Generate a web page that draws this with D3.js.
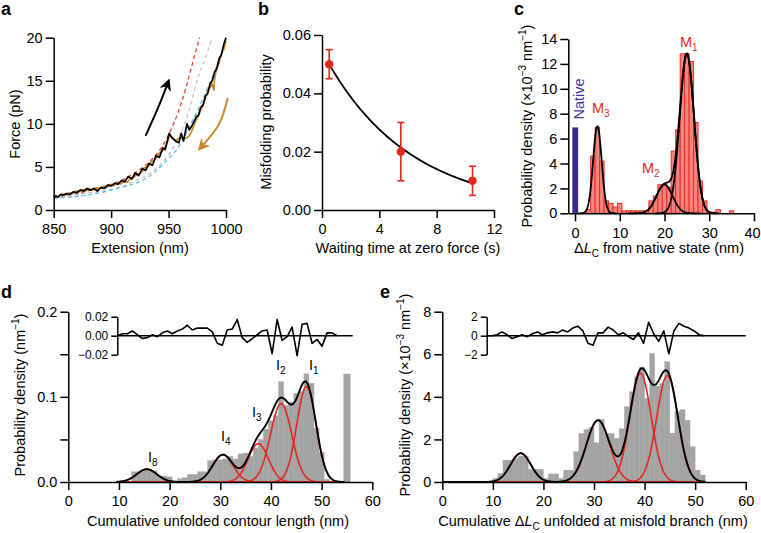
<!DOCTYPE html>
<html>
<head>
<meta charset="utf-8">
<script src="https://cdn.jsdelivr.net/npm/d3@7/dist/d3.min.js"></script>
<style>
  body { margin: 0; background: #fff; }
  svg { font-family: "Liberation Sans", Arial, Helvetica, sans-serif; }
</style>
</head>
<body>
<svg id="fig" width="761" height="533"></svg>
<script>
// ── Panel a: force-extension traces (extension nm, force pN) ──
var stretchTrace = [[850,1.4],[852,1.6],[854,1.5],[856,1.8],[858,1.7],[861,1.9],[864,1.8],[867,2.1],[870,2.0],[873,2.3],[876,2.2],[879,2.5],[882,2.3],[885,2.5],[888,2.2],[891,2.6],[894,2.5],[897,2.9],[900,2.8],[903,3.1],[906,3.0],[909,3.4],[912,3.3],[915,3.9],[918,3.6],[921,4.3],[924,4.0],[927,4.8],[930,4.6],[933,5.4],[936,5.2],[939,6.3],[942,6.1],[945,7.2],[947,7.0],[949,8.0],[950.5,8.9],[953,8.4],[956,8.0],[959,7.8],[961,8.9],[963,8.0],[966,10.0],[968,9.3],[970,9.7],[972,10.2],[974,10.8],[976,11.0],[978,11.9],[980,12.2],[982,13.2],[984,13.5],[986,14.6],[988,15.0],[990,16.0],[992,16.4],[994,17.6],[996,18.0],[998,19.2],[1000,20.0]];
var relaxTrace = [[1000,19.6],[998,18.6],[996,18.2],[994,17.0],[992,16.6],[990,15.2],[989.5,13.9],[988,14.6],[986,14.2],[984,13.8],[982,13.0],[980,12.1],[978,11.6],[976,10.9],[974,10.4],[972,9.8],[970,9.1],[968,8.6],[965,8.3],[962,8.4],[959,8.3],[956,8.1],[953,8.4],[951,8.6],[949,8.0],[947,7.3],[944,6.8],[941,6.5],[938,5.8],[935,5.6],[932,5.0],[929,4.9],[926,4.3],[923,4.2],[920,3.8],[917,3.7],[914,3.2],[911,3.3],[908,3.0],[905,3.1],[902,2.8],[899,2.9],[896,2.6],[893,2.7],[890,2.5],[887,2.6],[884,2.3],[881,2.5],[878,2.2],[875,2.4],[872,2.1],[869,2.2],[866,1.9],[863,2.0],[860,1.7],[857,1.9],[854,1.6],[851,1.7],[850,1.5]];
var wlcRed = [[850,1.4],[870,1.9],[890,2.6],[910,3.5],[925,4.7],[935,5.8],[945,7.5],[952,9.3],[958,11.2],[963,13.2],[968,15.6],[972,17.6],[977,20]];
var wlcGray = [[850,1.4],[875,1.9],[900,2.4],[920,3.3],[937,4.6],[950,6.4],[960,8.7],[966,10.8],[970,12.6],[975,15.1],[980,16.9],[988,20]];
var wlcBlue = [[850,1.35],[880,1.75],[900,2.3],[911,2.7],[925,3.3],[937,4.3],[950,6.0],[957,7.0],[966,9.1],[975,11.5],[983,13.9],[990,16.0],[995,17.8],[1000,20]];
var arrowUp = [[930,8.6],[941,11.9],[949,14.6]];
var arrowDown = [[1001.5,13.0],[994,10.0],[979,7.4]];

// ── Panel b: misfolding probability vs waiting time ──
var waitTime = [0.5, 5.5, 10.5];
var misfoldProb = [0.05, 0.02, 0.01];
var misfoldErr = [0.005, 0.01, 0.005];
var expFit = [0.05, 5.9]; // amplitude at first point, decay time (s)

// ── Panel c: ΔLc histogram (x10^-3 nm^-1) ──
var nativeDensity = 6.9;
var cBinCenter = [3,4,5,6,7,8,9,10,11,12,13,14,15,16,17,18,19,20,21,22,23,24,25,26,27,28,29,30,31,32,33,34,35];
var cDensity   = [0.3,4.6,6.9,4.2,1.0,0.8,0.5,0.8,0.2,0.2,0.2,0.2,0.2,0.2,1.0,1.4,2.3,2.3,2.1,5.0,6.7,12.8,12.8,12.2,7.3,2.6,1.0,0.1,0.1,0.3,0,0,0.2];
var cFitCenter = [5, 20, 25];
var cFitAmp    = [7.0, 2.3, 12.8];
var cFitSigma  = [0.95, 1.8, 1.6];

// ── Panel d: cumulative unfolded contour length ──
var dBinCenter = [13,14,15,16,17,18,19,20,22,23,24,25,26,27,28,29,30,31,32,33,34,35,36,37,38,39,40,41,42,43,44,45,46,47,48,49,50,51];
var dDensity   = [0.012,0.012,0.013,0.014,0.013,0.007,0.007,0.006,0.004,0.005,0.009,0.009,0.012,0.012,0.025,0.026,0.026,0.027,0.030,0.027,0.033,0.034,0.030,0.040,0.050,0.062,0.072,0.078,0.118,0.090,0.094,0.104,0.106,0.127,0.116,0.063,0.035,0.003];
var dLastBar = [55, 0.127];
var dFitCenter = [15.5, 30.5, 37.5, 42, 47];
var dFitAmp    = [0.015, 0.032, 0.045, 0.092, 0.112];
var dFitSigma  = [2.0, 2.0, 2.0, 2.1, 1.9];
var dResidStart = 9.7, dResidStep = 0.985;
var dResid = [0,0.002,0.002,0.005,0.001,-0.003,-0.002,0.001,-0.001,0.003,0.005,0.002,0.005,0.007,0.011,0.006,0.008,0.008,0.008,0.004,-0.008,-0.010,0.006,0.007,0.017,-0.002,-0.007,-0.003,0.001,0.005,0.006,-0.019,0.017,-0.005,-0.001,0.009,-0.021,0.012,0.013,-0.008,-0.004,-0.011,0.003,0.003,0];

// ── Panel e: cumulative ΔLc at misfold branch (x10^-3 nm^-1) ──
var eBinLeft = [10,11,12,13,14,15,16,17,18,19,20,21,22,23,24,25,26,27,28,29,30,31,32,33,34,35,36,37,38,39,40,41,42,43,44,45,46,47,48,49,50,51];
var eDensity = [0.17,0.4,1.03,1.03,1.1,1.22,1.22,0.6,0.6,0.6,0.17,0.38,0.38,0.17,0.56,0.56,1.42,2.28,2.47,2.57,1.85,2.94,2.28,2.28,2.05,2.5,3.54,4.24,4.94,5.4,3.93,6.04,4.5,4.63,5.65,2.3,3.33,3.4,2.9,1.66,0.56,0.33];
var eFitCenter = [15.5, 30.8, 39.2, 44.5];
var eFitAmp    = [1.35, 2.9, 5.1, 5.0];
var eFitSigma  = [2.0, 2.3, 2.1, 2.1];
var eResidStart = 8.8, eResidStep = 1.0;
var eResid = [0,0,0.1,0.4,0.1,-0.3,-0.1,0.1,-0.1,0.2,0.4,0.1,0.3,0.4,0.3,0.6,0.4,0.8,1.0,0.5,-0.8,-1.0,0.3,0.3,0.9,0.6,0.1,0.3,-0.1,-0.4,0.3,-0.8,1.4,0.2,-0.6,0.5,-1.9,0.5,1.3,1.0,0.8,0.5,0.1,0];

var RED = '#e2281e', ORANGE = '#c98a2e';
var FONT = 14.5;
var svg = d3.select('#fig');

// ── helpers ──
function addAxis(axis, tx, ty, fontSize) {
    var g = svg.append('g')
        .attr('transform', 'translate(' + tx + ',' + ty + ')')
        .call(axis);
    g.attr('font-family', null).attr('font-size', null);
    g.selectAll('.domain, .tick line').attr('stroke', '#000').attr('stroke-width', 1.5);
    g.selectAll('.tick text').attr('fill', '#000').style('font-size', (fontSize || FONT) + 'px');
    return g;
}

function addParts(t, parts) {
    var shift = 0;
    parts.forEach(function(p) {
        var s = t.append('tspan').text(p.t);
        var want = p.sup ? -6 : (p.sub ? 4 : 0);
        if (want !== shift) { s.attr('dy', want - shift); shift = want; }
        if (p.sup || p.sub) s.style('font-size', '10px');
        if (p.it) s.style('font-style', 'italic');
    });
    return t;
}

function label(x, y, parts, opts) {
    opts = opts || {};
    var t = svg.append('text')
        .attr('transform', 'translate(' + x + ',' + y + ')' + (opts.rot ? ' rotate(-90)' : ''))
        .attr('text-anchor', opts.anchor || 'middle')
        .style('font-size', (opts.size || FONT) + 'px')
        .attr('fill', opts.color || '#000');
    if (opts.bold) t.style('font-weight', 'bold');
    return addParts(t, typeof parts === 'string' ? [{t: parts}] : parts);
}

function gaussCurve(c, a, s, lo, hi) {
    return d3.range(lo, hi + 0.001, 0.1).map(function(x) {
        return [x, a * Math.exp(-(x - c) * (x - c) / (2 * s * s))];
    });
}

function sumCurve(cs, as, ss, lo, hi) {
    return d3.range(lo, hi + 0.001, 0.1).map(function(x) {
        var v = 0;
        cs.forEach(function(c, i) { v += as[i] * Math.exp(-(x - c) * (x - c) / (2 * ss[i] * ss[i])); });
        return [x, v];
    });
}

function drawLine(data, x, y, color, width, dash, curve) {
    var line = d3.line().x(function(d) { return x(d[0]); }).y(function(d) { return y(d[1]); });
    if (curve) line.curve(curve);
    var p = svg.append('path').datum(data)
        .attr('d', line)
        .attr('fill', 'none')
        .attr('stroke', color)
        .attr('stroke-width', width)
        .attr('stroke-linejoin', 'round');
    if (dash) p.attr('stroke-dasharray', dash);
    return p;
}

// arrow markers
var defs = svg.append('defs');
[['headBlack', '#000'], ['headOrange', ORANGE]].forEach(function(m) {
    defs.append('marker')
        .attr('id', m[0])
        .attr('viewBox', '0 0 10 10')
        .attr('refX', 5).attr('refY', 5)
        .attr('markerWidth', 6).attr('markerHeight', 6)
        .attr('markerUnits', 'strokeWidth')
        .attr('orient', 'auto')
        .append('path')
        .attr('d', 'M0,0 L10,5 L0,10 L3,5 Z')
        .attr('fill', m[1]);
});

// ── Panel a ──
var xA = d3.scaleLinear().domain([850, 1000]).range([53.7, 226]);
var yA = d3.scaleLinear().domain([0, 20]).range([210, 37.7]);

drawLine(wlcRed, xA, yA, '#e8412c', 1.3, '4,3', d3.curveMonotoneX);
drawLine(wlcGray, xA, yA, '#c4c4c4', 1.3, '4,3', d3.curveMonotoneX);
drawLine(wlcBlue, xA, yA, '#5bbde8', 1.3, '4,3', d3.curveMonotoneX);
drawLine(relaxTrace, xA, yA, ORANGE, 1.7);
drawLine(stretchTrace, xA, yA, '#000', 1.7);
drawLine(arrowUp, xA, yA, '#000', 2, null, d3.curveNatural).attr('marker-end', 'url(#headBlack)');
drawLine(arrowDown, xA, yA, ORANGE, 2, null, d3.curveNatural).attr('marker-end', 'url(#headOrange)');

addAxis(d3.axisBottom(xA).tickValues([850, 900, 950, 1000]).tickFormat(d3.format('d')).tickSize(8).tickSizeOuter(0).tickPadding(6), 0, 210);
addAxis(d3.axisLeft(yA).tickValues([0, 5, 10, 15, 20]).tickSize(8).tickSizeOuter(0).tickPadding(3), 53.7, 0);
label(140, 253, 'Extension (nm)');
label(20, 124, 'Force (pN)', {rot: true});
label(1, 15, 'a', {anchor: 'start', bold: true, size: 18});

// ── Panel b ──
var xB = d3.scaleLinear().domain([0, 12]).range([322, 494]);
var yB = d3.scaleLinear().domain([0, 0.06]).range([210, 35]);

var fitB = d3.range(waitTime[0], waitTime[2] + 0.001, 0.1).map(function(t) {
    return [t, expFit[0] * Math.exp(-(t - waitTime[0]) / expFit[1])];
});
drawLine(fitB, xB, yB, '#000', 1.8);

waitTime.forEach(function(t, i) {
    var cx = xB(t), lo = yB(misfoldProb[i] - misfoldErr[i]), hi = yB(misfoldProb[i] + misfoldErr[i]);
    svg.append('line').attr('x1', cx).attr('x2', cx).attr('y1', lo).attr('y2', hi)
        .attr('stroke', RED).attr('stroke-width', 1.6);
    [lo, hi].forEach(function(yy) {
        svg.append('line').attr('x1', cx - 3.5).attr('x2', cx + 3.5).attr('y1', yy).attr('y2', yy)
            .attr('stroke', RED).attr('stroke-width', 1.6);
    });
    svg.append('circle').attr('cx', cx).attr('cy', yB(misfoldProb[i])).attr('r', 4.2).attr('fill', RED);
});

addAxis(d3.axisBottom(xB).tickValues([0, 4, 8, 12]).tickSize(8).tickSizeOuter(0).tickPadding(6), 0, 210);
addAxis(d3.axisLeft(yB).tickValues([0, 0.02, 0.04, 0.06]).tickFormat(d3.format('.2f')).tickSize(8).tickSizeOuter(0).tickPadding(3), 322, 0);
label(408, 253, 'Waiting time at zero force (s)');
label(271, 122, 'Misfolding probability', {rot: true});
label(258, 15, 'b', {anchor: 'start', bold: true, size: 18});

// ── Panel c ──
var xC = d3.scaleLinear().domain([-1.5, 40]).range([568.3, 754]);
var yC = d3.scaleLinear().domain([0, 14]).range([213.3, 39]);

svg.append('rect')
    .attr('x', xC(-0.6)).attr('width', xC(0.7) - xC(-0.6))
    .attr('y', yC(nativeDensity)).attr('height', yC(0) - yC(nativeDensity))
    .attr('fill', '#372c8c');

svg.append('g').selectAll('rect').data(cBinCenter).enter().append('rect')
    .attr('x', function(c) { return xC(c - 0.5); })
    .attr('width', function(c) { return xC(c + 0.5) - xC(c - 0.5); })
    .attr('y', function(c, i) { return yC(cDensity[i]); })
    .attr('height', function(c, i) { return yC(0) - yC(cDensity[i]); })
    .attr('fill', '#f4857e')
    .attr('stroke', '#e3261c')
    .attr('stroke-width', 0.9);

cFitCenter.forEach(function(c, i) {
    drawLine(gaussCurve(c, cFitAmp[i], cFitSigma[i], c - 4.5 * cFitSigma[i], c + 4.5 * cFitSigma[i]), xC, yC, '#000', 1.8);
});
drawLine(sumCurve(cFitCenter, cFitAmp, cFitSigma, 15, 31), xC, yC, '#000', 1.8);

var cAxis = addAxis(d3.axisBottom(xC).tickValues([0, 10, 20, 30, 40]).tickSize(8).tickSizeOuter(0).tickPadding(6), 0, 213.3);
cAxis.selectAll('.tick text').filter(function(d) { return d === 40; }).attr('dx', -2);
addAxis(d3.axisLeft(yC).tickValues(d3.range(0, 15, 2)).tickSize(8).tickSizeOuter(0).tickPadding(3), 568.3, 0);
label(659, 253, [{t: 'Δ'}, {t: 'L', it: true}, {t: 'C', sub: true}, {t: ' from native state (nm)'}]);
label(532, 126, [{t: 'Probability density (×10'}, {t: '−3', sup: true}, {t: ' nm'}, {t: '−1', sup: true}, {t: ')'}], {rot: true});
label(584, 99, 'Native', {rot: true, color: '#3f3596'});
label(592, 113, [{t: 'M'}, {t: '3', sub: true}], {anchor: 'start', color: RED});
label(642, 173, [{t: 'M'}, {t: '2', sub: true}], {anchor: 'start', color: RED});
label(680, 47, [{t: 'M'}, {t: '1', sub: true}], {anchor: 'start', color: RED});
label(514, 15, 'c', {anchor: 'start', bold: true, size: 18});

// ── Panel d ──
var xD = d3.scaleLinear().domain([0, 60]).range([68.3, 372.3]);
var yD = d3.scaleLinear().domain([0, 0.2]).range([482, 311.7]);
var yDr = d3.scaleLinear().domain([-0.02, 0.02]).range([354.7, 316.7]);

svg.append('g').selectAll('rect').data(dBinCenter).enter().append('rect')
    .attr('x', function(c) { return xD(c - 0.5); })
    .attr('width', function(c) { return xD(c + 0.5) - xD(c - 0.5); })
    .attr('y', function(c, i) { return yD(dDensity[i]); })
    .attr('height', function(c, i) { return yD(0) - yD(dDensity[i]); })
    .attr('fill', '#a4a4a4').attr('stroke', '#a4a4a4').attr('stroke-width', 0.3);
svg.append('rect')
    .attr('x', xD(dLastBar[0] - 0.7)).attr('width', xD(1.4) - xD(0))
    .attr('y', yD(dLastBar[1])).attr('height', yD(0) - yD(dLastBar[1]))
    .attr('fill', '#a4a4a4');

dFitCenter.forEach(function(c, i) {
    drawLine(gaussCurve(c, dFitAmp[i], dFitSigma[i], 9.5, 54.5), xD, yD, RED, 1.6);
});
drawLine(sumCurve(dFitCenter, dFitAmp, dFitSigma, 9.5, 54.5), xD, yD, '#000', 1.9);

addAxis(d3.axisBottom(xD).tickValues(d3.range(0, 61, 10)).tickSize(8).tickSizeOuter(0).tickPadding(6), 0, 482);
addAxis(d3.axisLeft(yD).tickValues([0, 0.05, 0.1, 0.15, 0.2])
    .tickFormat(function(v) { return Math.abs(v * 10 - Math.round(v * 10)) < 1e-9 ? v.toFixed(1) : ''; })
    .tickSize(8).tickSizeOuter(0).tickPadding(3), 68.3, 0);

// residual inset
svg.append('line').attr('x1', 117.3).attr('x2', 352.7).attr('y1', yDr(0)).attr('y2', yDr(0))
    .attr('stroke', '#000').attr('stroke-width', 1.5);
drawLine(dResid.map(function(v, i) { return [dResidStart + i * dResidStep, v]; }), xD, yDr, '#000', 1.6);
addAxis(d3.axisLeft(yDr).tickValues([-0.02, 0, 0.02]).tickFormat(d3.format('.2f')).tickSize(6).tickSizeOuter(0).tickPadding(3), 117.3, 0, 12);

label(218, 526, 'Cumulative unfolded contour length (nm)');
label(25, 395, [{t: 'Probability density (nm'}, {t: '−1', sup: true}, {t: ')'}], {rot: true});
[[148, 462, '8'], [221, 441, '4'], [252, 417, '3'], [276, 370, '2'], [309, 370, '1']].forEach(function(l) {
    label(l[0], l[1], [{t: 'I'}, {t: l[2], sub: true}], {anchor: 'start'});
});
label(1, 298, 'd', {anchor: 'start', bold: true, size: 18});

// ── Panel e ──
var xE = d3.scaleLinear().domain([0, 60]).range([442.3, 745.7]);
var yE = d3.scaleLinear().domain([0, 8]).range([482, 311.7]);
var yEr = d3.scaleLinear().domain([-2, 2]).range([354.7, 316.7]);

svg.append('g').selectAll('rect').data(eBinLeft).enter().append('rect')
    .attr('x', function(c) { return xE(c); })
    .attr('width', function(c) { return xE(c + 1) - xE(c); })
    .attr('y', function(c, i) { return yE(eDensity[i]); })
    .attr('height', function(c, i) { return yE(0) - yE(eDensity[i]); })
    .attr('fill', '#a4a4a4').attr('stroke', '#a4a4a4').attr('stroke-width', 0.3);

eFitCenter.forEach(function(c, i) {
    drawLine(gaussCurve(c, eFitAmp[i], eFitSigma[i], 0, 52), xE, yE, RED, 1.6);
});
drawLine(sumCurve(eFitCenter, eFitAmp, eFitSigma, 0, 52), xE, yE, '#000', 1.9);

addAxis(d3.axisBottom(xE).tickValues(d3.range(0, 61, 10)).tickSize(8).tickSizeOuter(0).tickPadding(6), 0, 482);
addAxis(d3.axisLeft(yE).tickValues([0, 2, 4, 6, 8]).tickSize(8).tickSizeOuter(0).tickPadding(3), 442.3, 0);

svg.append('line').attr('x1', 486.7).attr('x2', 745.7).attr('y1', yEr(0)).attr('y2', yEr(0))
    .attr('stroke', '#000').attr('stroke-width', 1.5);
drawLine(eResid.map(function(v, i) { return [eResidStart + i * eResidStep, v]; }), xE, yEr, '#000', 1.6);
addAxis(d3.axisLeft(yEr).tickValues([-2, 0, 2]).tickFormat(d3.format('d')).tickSize(6).tickSizeOuter(0).tickPadding(3), 486.7, 0, 12);

label(593, 526, [{t: 'Cumulative Δ'}, {t: 'L', it: true}, {t: 'C', sub: true}, {t: ' unfolded at misfold branch (nm)'}]);
label(410, 395, [{t: 'Probability density (×10'}, {t: '−3', sup: true}, {t: ' nm'}, {t: '−1', sup: true}, {t: ')'}], {rot: true});
label(380, 298, 'e', {anchor: 'start', bold: true, size: 18});
</script>
</body>
</html>
